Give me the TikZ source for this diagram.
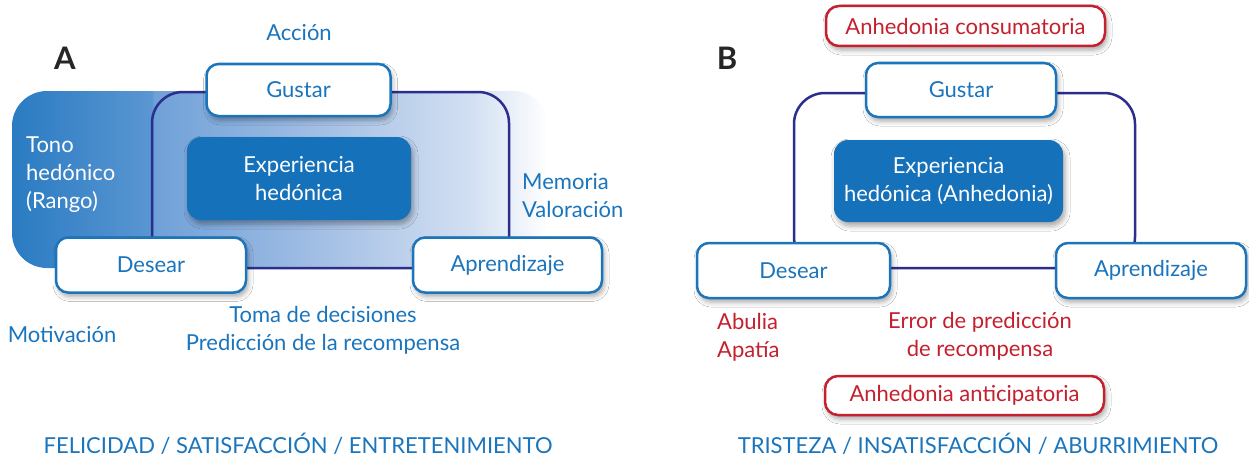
\documentclass[tikz,border=0pt]{standalone}
\usepackage{fontspec}
\setmainfont{Lato}
\usetikzlibrary{shadows.blur}
\definecolor{tblue}{HTML}{1B75BC}
\definecolor{navy}{HTML}{2B2E8C}
\definecolor{tred}{HTML}{C5202E}
\definecolor{dfill}{HTML}{1571BA}
\definecolor{ca}{HTML}{2A7BC2}
\definecolor{cb}{HTML}{5A96D2}
\definecolor{cc}{HTML}{6FA1D8}
\definecolor{cd}{HTML}{9DBBE3}
\definecolor{ce}{HTML}{D3E0F2}
\pgfdeclarehorizontalshading{hedon}{100bp}{color(0bp)=(ca); color(25bp)=(ca); color(38bp)=(cb); color(38.3bp)=(cc); color(52bp)=(cd); color(68bp)=(ce); color(75bp)=(white); color(100bp)=(white)}
\tikzset{
  txt/.style={font=\fontsize{22}{28}\selectfont},
  bluetxt/.style={txt, text=tblue},
  redtxt/.style={txt, text=tred},
  shad/.style={blur shadow={shadow xshift=2pt, shadow yshift=-4pt, shadow blur radius=5pt, shadow opacity=35}},
  box/.style={draw=tblue, line width=2.5pt, fill=white, rounded corners=12pt, bluetxt, inner sep=0pt, shad},
  redbox/.style={draw=tred, line width=2.5pt, fill=white, rounded corners=13pt, redtxt, inner sep=0pt, shad},
  expbox/.style={fill=dfill, rounded corners=14pt, txt, text=white, align=center, inner sep=0pt, shad},
  loop/.style={draw=navy, line width=2.5pt, rounded corners=31pt},
  panel/.style={font=\fontsize{31}{32}\selectfont\bfseries, text=black!85}
}
\begin{document}
\begin{tikzpicture}[x=1pt,y=-1pt]
\useasboundingbox (0,0) rectangle (1249,460);
\fill[white] (0,0) rectangle (1249,460);

% ---------- Panel A ----------
\shade[shading=hedon, rounded corners=35pt] (12,91) rectangle (548,268);
\coordinate (a1) at (152,92);
\coordinate (a2) at (509,268);
\draw[loop] (a1) rectangle (a2);

\node[panel] (labA) at (65,58) {A};
\node[bluetxt] (accion) at (299,33) {Acción};
\node[box, minimum width=184pt, minimum height=52pt] (gustA) at (298.5,90) {Gustar};
\node[expbox, minimum width=224pt, minimum height=83pt] (expA) at (299,178.5) {Experiencia\\hedónica};
\node[box, minimum width=190pt, minimum height=55pt] (desA) at (151,265) {Desear};
\node[box, minimum width=189pt, minimum height=55pt] (aprA) at (507.5,265) {Aprendizaje};
\node[txt, text=white, anchor=west, align=left, inner sep=0pt] (tono) at (26,175) {Tono\\hedónico\\(Rango)};
\node[bluetxt, anchor=west, align=left, inner sep=0pt] (memo) at (522,195.5) {Memoria\\Valoración};
\node[bluetxt, align=center] (toma) at (323,330) {Toma de decisiones\\Predicción de la recompensa};
\node[bluetxt] (motiv) at (62,335) {Motivación};
\node[bluetxt] (felic) at (298,444) {FELICIDAD / SATISFACCIÓN / ENTRETENIMIENTO};

% ---------- Panel B ----------
\coordinate (b1) at (794,93);
\coordinate (b2) at (1135,268);
\draw[loop] (b1) rectangle (b2);

\node[panel] (labB) at (727,58) {B};
\node[redbox, minimum width=279pt, minimum height=40pt] (cons) at (965.5,26) {Anhedonia consumatoria};
\node[box, minimum width=190pt, minimum height=54pt] (gustB) at (961,90) {Gustar};
\node[expbox, minimum width=229pt, minimum height=82pt] (expB) at (948.5,181) {Experiencia\\hedónica (Anhedonia)};
\node[box, minimum width=193pt, minimum height=55pt] (desB) at (793.5,270.5) {Desear};
\node[box, minimum width=190pt, minimum height=55pt] (aprB) at (1151,270.5) {Aprendizaje};
\node[redtxt, anchor=west, align=left, inner sep=0pt] (abul) at (717,337) {Abulia\\Apatía};
\node[redtxt, align=center] (error) at (980,336.5) {Error de predicción\\de recompensa};
\node[redbox, minimum width=279pt, minimum height=39pt] (antic) at (964.5,395.5) {Anhedonia anticipatoria};
\node[bluetxt] (trist) at (978,444) {TRISTEZA / INSATISFACCIÓN / ABURRIMIENTO};
\end{tikzpicture}
\end{document}
